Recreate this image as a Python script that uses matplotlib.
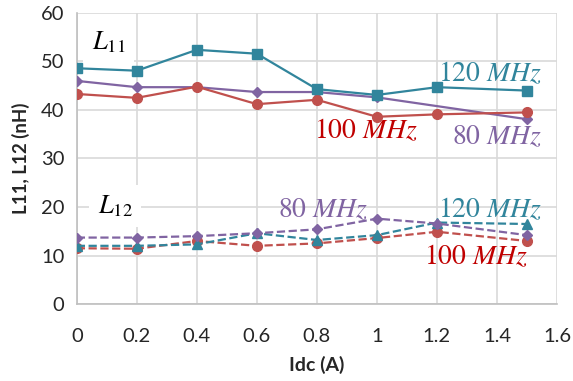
import matplotlib.pyplot as plt

plt.rcParams['font.family'] = ['Lato', 'DejaVu Sans']
plt.rcParams['mathtext.fontset'] = 'stix'

idc = [0, 0.2, 0.4, 0.6, 0.8, 1.0, 1.2, 1.5]
idc_80_l11 = [0, 0.2, 0.4, 0.6, 0.8, 1.0, 1.5]

l11_120 = [48.6, 48.1, 52.4, 51.6, 44.3, 43.1, 44.7, 44.0]
l11_80 = [46.0, 44.7, 44.7, 43.7, 43.7, 42.6, 38.1]
l11_100 = [43.3, 42.5, 44.8, 41.2, 42.1, 38.6, 39.1, 39.5]

l12_80 = [13.7, 13.7, 14.0, 14.6, 15.4, 17.6, 16.6, 14.2]
l12_120 = [12.0, 12.0, 12.3, 14.6, 13.2, 14.2, 16.8, 16.5]
l12_100 = [11.5, 11.4, 13.0, 12.0, 12.5, 13.6, 14.9, 13.0]

teal = '#31859C'
purple = '#8064A2'
red = '#C0504D'
darkred = '#C00000'

fig = plt.figure(figsize=(5.73, 3.81), dpi=100)
ax = fig.add_axes([0.134, 0.202, 0.838, 0.764])

lw = 1.6
ax.plot(idc_80_l11, l11_80, color=purple, lw=lw, marker='D', ms=5, zorder=3)
ax.plot(idc, l11_100, color=red, lw=lw, marker='o', ms=7, zorder=3)
ax.plot(idc, l11_120, color=teal, lw=lw, marker='s', ms=7, zorder=4)

ax.plot(idc, l12_100, color=red, lw=lw, ls='--', marker='o', ms=7, zorder=3)
ax.plot(idc, l12_120, color=teal, lw=lw, ls='--', marker='^', ms=7, zorder=3)
ax.plot(idc, l12_80, color=purple, lw=lw, ls='--', marker='D', ms=5, zorder=4)

ax.set_xlim(0, 1.6)
ax.set_ylim(0, 60)
ax.set_xticks([0, 0.2, 0.4, 0.6, 0.8, 1.0, 1.2, 1.4, 1.6])
ax.set_xticklabels(['0', '0.2', '0.4', '0.6', '0.8', '1', '1.2', '1.4', '1.6'])
ax.set_yticks(range(0, 61, 10))
ax.grid(True, color='#D9D9D9', lw=1.2, zorder=0)
ax.set_axisbelow(True)
for s in ['top', 'right']:
    ax.spines[s].set_visible(False)
for s in ['left', 'bottom']:
    ax.spines[s].set_color('#BFBFBF')
    ax.spines[s].set_linewidth(1.2)
ax.tick_params(length=0, labelsize=14.5, colors='#262626')
ax.tick_params(axis='x', pad=17)
ax.tick_params(axis='y', pad=9)

ax.set_xlabel('Idc (A)', fontsize=14, fontweight='bold', color='#262626', labelpad=8)
ax.set_ylabel('L11, L12 (nH)', fontsize=13.5, fontweight='bold', color='#262626', labelpad=8)

box = dict(facecolor='white', edgecolor='none', pad=6)
fs = 20
ax.text(0.05, 54.0, r'$L_{11}$', fontsize=19, color='black', va='center', bbox=box, zorder=2)
ax.text(0.07, 20.2, r'$L_{12}$', fontsize=19, color='black', va='center', bbox=box, zorder=2)

ax.text(1.55, 47.7, r'$120\ MHz$', fontsize=fs, color=teal, ha='right', va='center')
ax.text(0.79, 35.9, r'$100\ MHz$', fontsize=fs, color=darkred, ha='left', va='center')
ax.text(1.55, 34.6, r'$80\ MHz$', fontsize=fs, color=purple, ha='right', va='center')
ax.text(0.67, 19.6, r'$80\ MHz$', fontsize=fs, color=purple, ha='left', va='center')
ax.text(1.55, 19.6, r'$120\ MHz$', fontsize=fs, color=teal, ha='right', va='center')
ax.text(1.505, 9.9, r'$100\ MHz$', fontsize=fs, color=darkred, ha='right', va='center')

fig.savefig('out.png', dpi=100)
